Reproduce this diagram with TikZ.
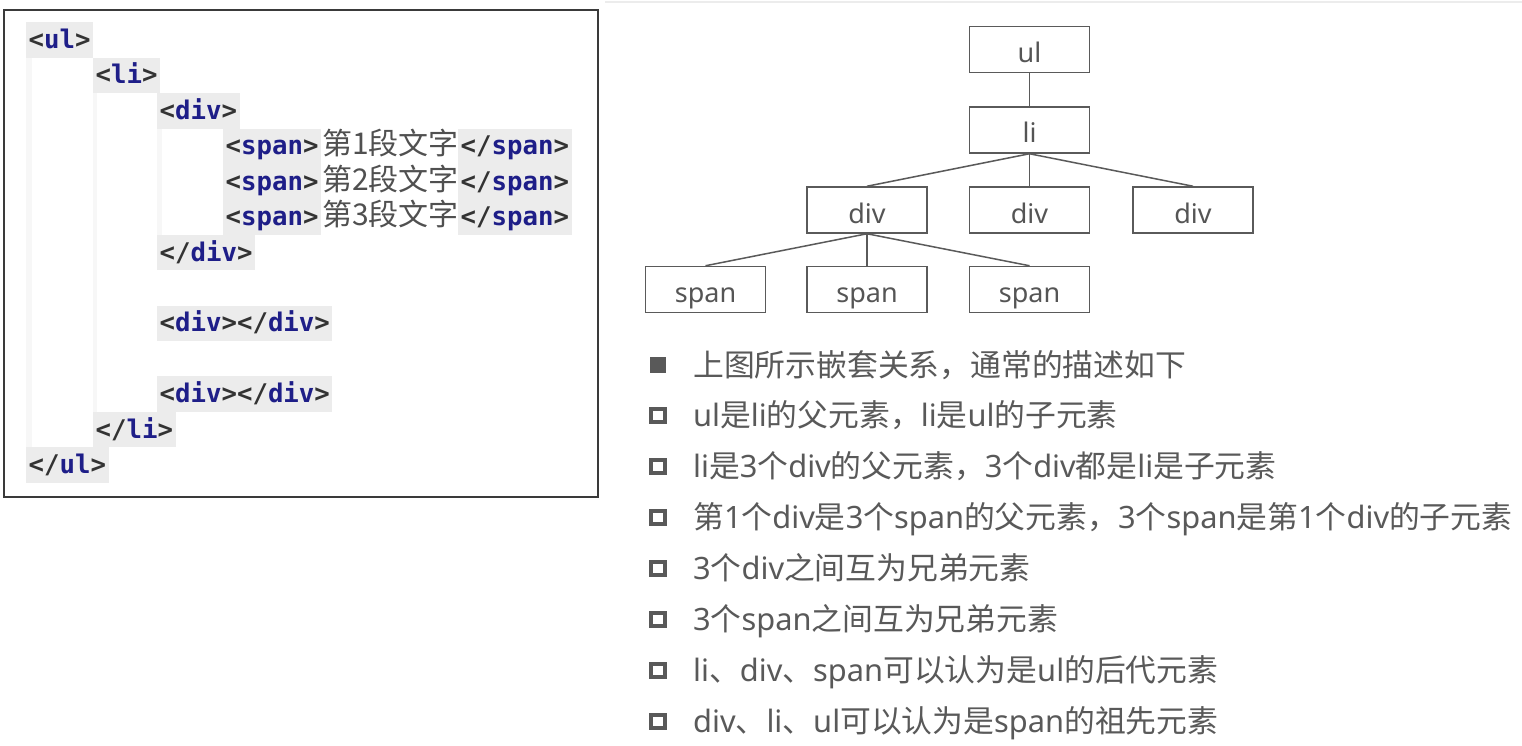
\documentclass[tikz,border=0pt]{standalone}
\usepackage{fontspec}
\setmainfont{Noto Sans}
\newfontfamily\cjk{Noto Sans CJK SC}
\newfontfamily\codefont{DejaVu Sans Mono}
\definecolor{hl}{HTML}{ECECEC}
\definecolor{guide}{HTML}{F7F7F7}
\definecolor{navy}{HTML}{1E1E88}
\definecolor{brk}{HTML}{333333}
\definecolor{cjkgray}{HTML}{505050}
\definecolor{boxline}{HTML}{5A5A5A}
\definecolor{treetext}{HTML}{555555}
\definecolor{bultext}{HTML}{595959}
\definecolor{frame}{HTML}{3A3A3A}
\newcommand\otag[1]{\textcolor{brk}{<}\textcolor{navy}{#1}\textcolor{brk}{>}}
\newcommand\ctag[1]{\textcolor{brk}{</}\textcolor{navy}{#1}\textcolor{brk}{>}}
\tikzset{
  code/.style={fill=hl, anchor=west, inner xsep=2.5pt, inner ysep=0pt,
    minimum height=35.5pt, text height=20pt, text depth=3pt,
    font=\codefont\bfseries\fontsize{25.7}{28}\selectfont},
  ctext/.style={anchor=west, inner sep=0pt, minimum height=35.5pt,
    text height=20pt, text depth=3pt, text=cjkgray,
    font=\cjk\fontsize{30}{33}\selectfont},
  tbox/.style={draw=boxline, line width=1.5pt, minimum width=120pt,
    minimum height=46pt, inner sep=0pt, text height=28pt, text depth=2pt,
    text=treetext, font=\fontsize{27}{30}\selectfont},
  edge/.style={draw=boxline, line width=1.5pt},
  fbul/.style={fill=bultext, minimum size=16pt, inner sep=0pt},
  hbul/.style={draw=bultext, line width=4pt, minimum size=13.5pt, inner sep=0pt},
  btxt/.style={anchor=base west, inner sep=0pt, text=bultext,
    font=\fontsize{30.8}{34}\selectfont}
}
\begin{document}
\begin{tikzpicture}[x=1pt,y=-1pt]
\fill[white] (0,0) rectangle (1522,746);
\useasboundingbox (0,0) rectangle (1522,746);
% faint top line
\draw[draw=hl, line width=2pt] (605,2) -- (1522,2);
% code frame
\draw[draw=frame, line width=1.6pt] (4,10) rectangle (598,497);
% indent guides
\fill[guide] (26,57.5) rectangle (32,447);
\fill[guide] (93,93) rectangle (97,412);
\fill[guide] (157,128.5) rectangle (162,235);
% code lines
\node[code] (cul) at (26,40) {\otag{ul}};
\node[code] (cli) at (93,75.4) {\otag{li}};
\node[code] (cdiv) at (157,110.8) {\otag{div}};
\node[code] (so1) at (223,146.3) {\otag{span}};
\node[code] (so2) at (223,181.7) {\otag{span}};
\node[code] (so3) at (223,217.1) {\otag{span}};
\node[ctext] (st1) at (322,146.3) {第1段文字};
\node[ctext] (st2) at (322,181.7) {第2段文字};
\node[ctext] (st3) at (322,217.1) {第3段文字};
\node[code] (sc1) at (458,146.3) {\ctag{span}};
\node[code] (sc2) at (458,181.7) {\ctag{span}};
\node[code] (sc3) at (458,217.1) {\ctag{span}};
\node[code] (cdivc) at (157,252.5) {\ctag{div}};
\node[code] (cdiv2) at (157,323.4) {\otag{div}\ctag{div}};
\node[code] (cdiv3) at (157,394.2) {\otag{div}\ctag{div}};
\node[code] (clic) at (93,429.6) {\ctag{li}};
\node[code] (culc) at (26,465) {\ctag{ul}};
% tree
\node[tbox] (ul) at (1029.5,49.5) {ul};
\node[tbox] (li) at (1029.5,130) {li};
\node[tbox] (d1) at (867,210) {div};
\node[tbox] (d2) at (1029.5,210) {div};
\node[tbox] (d3) at (1193,210) {div};
\node[tbox] (s1) at (705.5,289.5) {span};
\node[tbox] (s2) at (867,289.5) {span};
\node[tbox] (s3) at (1029.5,289.5) {span};
\draw[edge] (ul) -- (li);
\draw[edge] (li.south) -- (d1.north);
\draw[edge] (li.south) -- (d2.north);
\draw[edge] (li.south) -- (d3.north);
\draw[edge] (d1.south) -- (s1.north);
\draw[edge] (d1.south) -- (s2.north);
\draw[edge] (d1.south) -- (s3.north);
% bullets
\node[fbul] (b1) at (658,365) {};
\node[hbul] (b2) at (658,415.5) {};
\node[hbul] (b3) at (658,466.5) {};
\node[hbul] (b4) at (658,517.5) {};
\node[hbul] (b5) at (658,568.5) {};
\node[hbul] (b6) at (658,619.5) {};
\node[hbul] (b7) at (658,670.5) {};
\node[hbul] (b8) at (658,721.5) {};
\node[btxt] (t1) at (693,376) {{\cjk 上图所示嵌套关系，通常的描述如下}};
\node[btxt] (t2) at (693,426.5) {ul{\cjk 是}li{\cjk 的父元素，}li{\cjk 是}ul{\cjk 的子元素}};
\node[btxt] (t3) at (693,477.5) {li{\cjk 是}3{\cjk 个}div{\cjk 的父元素，}3{\cjk 个}div{\cjk 都是}li{\cjk 是子元素}};
\node[btxt] (t4) at (693,528.5) {{\cjk 第}1{\cjk 个}div{\cjk 是}3{\cjk 个}span{\cjk 的父元素，}3{\cjk 个}span{\cjk 是第}1{\cjk 个}div{\cjk 的子元素}};
\node[btxt] (t5) at (693,579.5) {3{\cjk 个}div{\cjk 之间互为兄弟元素}};
\node[btxt] (t6) at (693,630.5) {3{\cjk 个}span{\cjk 之间互为兄弟元素}};
\node[btxt] (t7) at (693,681.5) {li{\cjk 、}div{\cjk 、}span{\cjk 可以认为是}ul{\cjk 的后代元素}};
\node[btxt] (t8) at (693,732.5) {div{\cjk 、}li{\cjk 、}ul{\cjk 可以认为是}span{\cjk 的祖先元素}};
\end{tikzpicture}
\end{document}
